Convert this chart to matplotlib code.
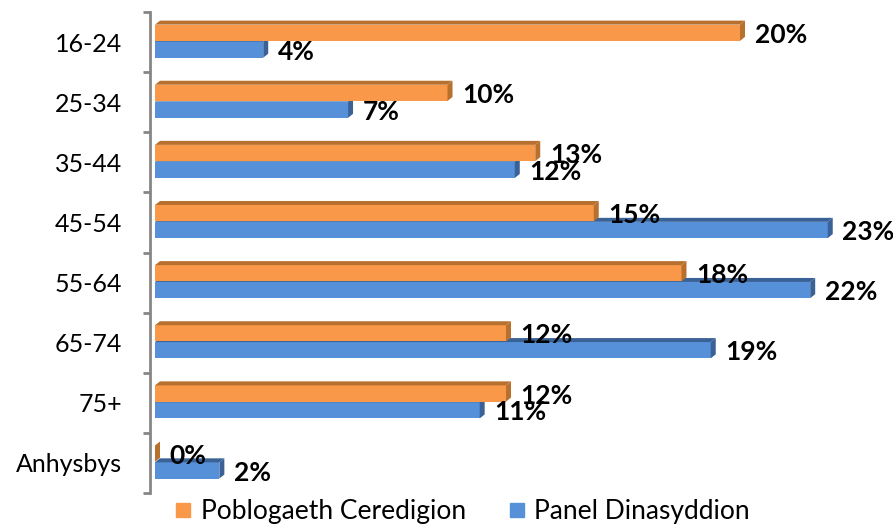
import matplotlib
matplotlib.use("Agg")
import matplotlib.pyplot as plt
from matplotlib.patches import Polygon, Rectangle
from matplotlib.lines import Line2D
import numpy as np

categories = ["16-24", "25-34", "35-44", "45-54", "55-64", "65-74", "75+", "Anhysbys"]
ceredigion = [20.0, 10.0, 13.0, 15.0, 18.0, 12.0, 12.0, 0.0]
panel = [3.7, 6.6, 12.3, 23.0, 22.4, 19.0, 11.1, 2.2]
series_names = ["Poblogaeth Ceredigion", "Panel Dinasyddion"]

ORANGE = "#F99848"
ORANGE_DARK = "#B8702F"
BLUE = "#5590D8"
BLUE_DARK = "#3A6296"

plt.rcParams['font.family'] = ['Lato', 'DejaVu Sans']

fig = plt.figure(figsize=(8.93, 5.26), dpi=100)
ax = fig.add_axes((150 / 893, 33 / 526, 730 / 893, 481 / 526))

x_left = -5 / 29.25
x_right = (880 - 155) / 29.25
ax.set_xlim(x_left, x_right)
ax.set_ylim(7.5, -0.5)

h = 0.27
dx = 5 / 29.25   # depth in x (data units)
dy = 4 / 60.0    # depth in y (data units)


def bar3d(y, val, face, dark):
    top = y - h / 2
    bottom = y + h / 2
    ax.add_patch(Rectangle((0, top), val, h, facecolor=face, edgecolor='none', zorder=2))
    # top face
    ax.add_patch(Polygon([(0, top), (val, top), (val + dx, top - dy), (dx, top - dy)],
                         closed=True, facecolor=dark, edgecolor='none', zorder=2))
    # side face
    ax.add_patch(Polygon([(val, top), (val + dx, top - dy), (val + dx, bottom - dy), (val, bottom)],
                         closed=True, facecolor=dark, edgecolor='none', zorder=2))


y = np.arange(len(categories))
for i in range(len(categories)):
    bar3d(y[i] + 0.125, panel[i], BLUE, BLUE_DARK)
for i in range(len(categories)):
    bar3d(y[i] - 0.155, ceredigion[i], ORANGE, ORANGE_DARK)

for i in range(len(categories)):
    ax.annotate(f"{round(ceredigion[i])}%", xy=(ceredigion[i] + dx, y[i] - 0.12),
                xytext=(7, 0), textcoords='offset points', va='center', ha='left',
                fontsize=19, fontweight='bold', color='black', zorder=4)
    ax.annotate(f"{round(panel[i])}%", xy=(panel[i] + dx, y[i] + 0.16),
                xytext=(7, 0), textcoords='offset points', va='center', ha='left',
                fontsize=19, fontweight='bold', color='black', zorder=4)

for s in ['top', 'right', 'bottom']:
    ax.spines[s].set_visible(False)
ax.spines['left'].set_color('#868686')
ax.spines['left'].set_linewidth(2)
ax.set_xticks([])

ax.set_yticks(np.arange(-0.5, len(categories), 1.0))
ax.set_yticklabels([])
ax.tick_params(axis='y', which='major', length=5, width=2, color='#868686')
ax.set_yticks(y, minor=True)
ax.set_yticklabels(categories, minor=True, fontsize=18, color='black')
ax.tick_params(axis='y', which='minor', length=0, pad=20)

handles = [Line2D([], [], marker='s', linestyle='none', markersize=10, color=ORANGE),
           Line2D([], [], marker='s', linestyle='none', markersize=10, color=BLUE)]
fig.legend(handles, series_names, loc='center', bbox_to_anchor=(462 / 893, 1 - 512 / 526),
           ncol=2, frameon=False, fontsize=19, handletextpad=0.3, columnspacing=1.6,
           handlelength=0.7, labelcolor='black')

fig.savefig("out.png", dpi=100)
